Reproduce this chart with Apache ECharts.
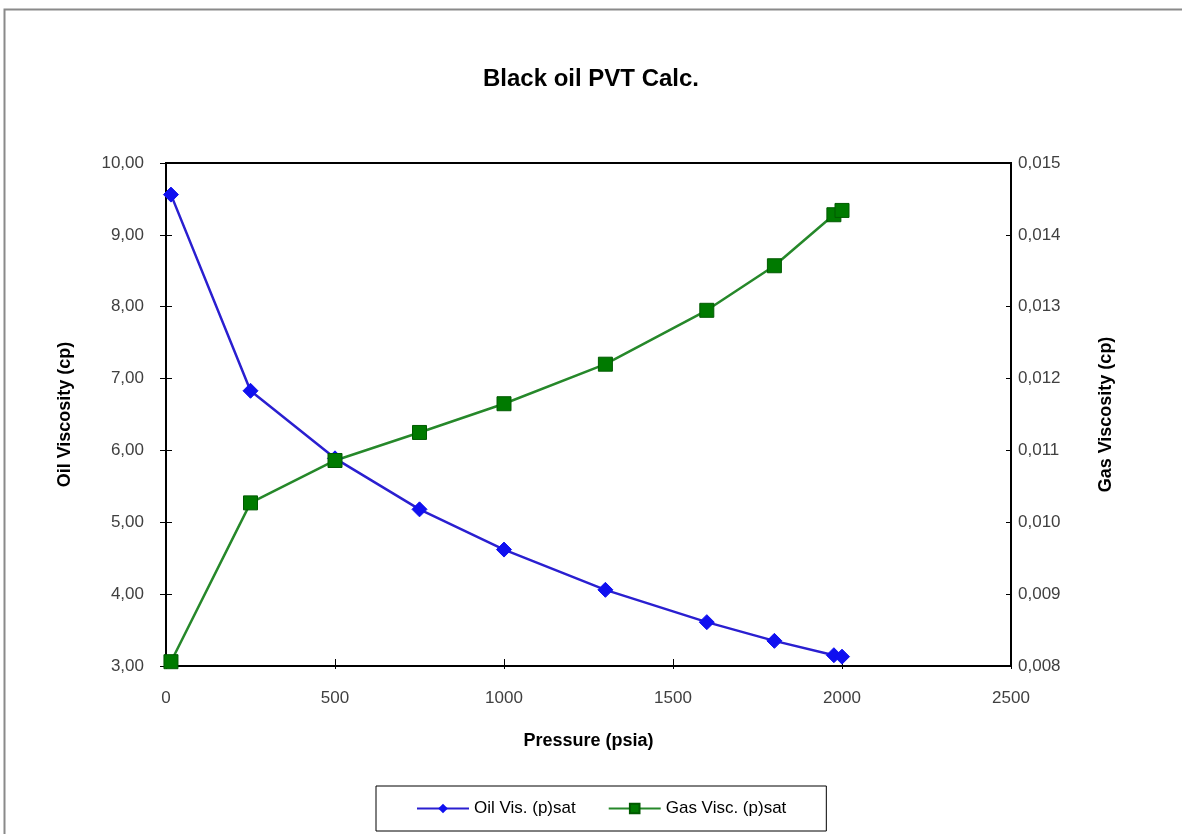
<!DOCTYPE html>
<html>
<head>
<meta charset="utf-8">
<script src="https://cdn.jsdelivr.net/npm/echarts@6/dist/echarts.min.js"></script>
<style>
html,body{margin:0;padding:0;background:#fff;}
#chart{width:1182px;height:834px;}
</style>
</head>
<body>
<div id="chart"></div>
<script>
var pressure = [14.7, 250, 500, 750, 1000, 1300, 1600, 1800, 1976, 2000];
var oilVisc = [9.56, 6.83, 5.89, 5.18, 4.62, 4.06, 3.61, 3.35, 3.15, 3.13];
var gasVisc = [0.00806, 0.01027, 0.01086, 0.01125, 0.01165, 0.0122, 0.01295, 0.01357, 0.01428, 0.01434];
var seriesNames = ['Oil Vis. (p)sat', 'Gas Visc. (p)sat'];
var titleText = 'Black oil PVT Calc.';
var xName = 'Pressure (psia)';
var yLeftName = 'Oil Viscosity (cp)';
var yRightName = 'Gas Viscosity (cp)';

function pairs(xs, ys){ return xs.map(function(x,i){ return [x, ys[i]]; }); }
var FONT = '"Liberation Sans", Arial, sans-serif';
var labelStyle = {color:'#404040', fontSize:17, fontFamily:FONT};
var nameStyle = {fontFamily:FONT, fontWeight:'bold', fontSize:18, color:'#000'};
var chart = echarts.init(document.getElementById('chart'));
chart.setOption({
  backgroundColor:'#fff',
  animation:false,
  title:{text:titleText, left:'center', top:62, textStyle:{fontFamily:FONT, fontWeight:'bold', fontSize:24, color:'#000'}},
  graphic:[{type:'rect', silent:true, shape:{x:4.5, y:9.5, width:1200, height:900}, style:{fill:'none', stroke:'#8a8a8a', lineWidth:2}}],
  grid:{left:166, right:171, top:163, bottom:168, show:true, borderColor:'#000', borderWidth:2, backgroundColor:'transparent'},
  legend:{
    data:seriesNames, left:376, top:786, orient:'horizontal',
    borderColor:'#000', borderWidth:1, padding:[14,40,14,40],
    itemWidth:52, itemHeight:12, itemGap:32,
    textStyle:{fontFamily:FONT, fontSize:17, color:'#000'}
  },
  xAxis:[
    {type:'value', min:0, max:2500, interval:500, position:'bottom',
     name:xName, nameLocation:'middle', nameGap:66, nameTextStyle:nameStyle,
     axisLine:{onZero:false, lineStyle:{color:'#000', width:2}},
     axisTick:{inside:true, length:7, lineStyle:{color:'#000', width:1}},
     axisLabel:Object.assign({margin:24, formatter:function(v){return String(v);}}, labelStyle),
     splitLine:{show:false}},
    {type:'value', min:0, max:2500, interval:500, position:'bottom',
     axisLine:{show:false}, axisTick:{inside:false, length:3, lineStyle:{color:'#000'}},
     axisLabel:{show:false}, splitLine:{show:false}}
  ],
  yAxis:[
    {type:'value', min:3, max:10, interval:1, position:'left',
     name:yLeftName, nameLocation:'middle', nameGap:92, nameRotate:90, nameTextStyle:nameStyle,
     axisLine:{lineStyle:{color:'#000', width:2}},
     axisTick:{inside:false, length:6, lineStyle:{color:'#000', width:1}},
     axisLabel:Object.assign({margin:22, formatter:function(v){return v.toFixed(2).replace('.', ',');}}, labelStyle),
     splitLine:{show:false}},
    {type:'value', min:0.008, max:0.015, interval:0.001, position:'right',
     name:yRightName, nameLocation:'middle', nameGap:86, nameRotate:90, nameTextStyle:nameStyle,
     axisLine:{lineStyle:{color:'#000', width:2}},
     axisTick:{inside:false, length:6, lineStyle:{color:'#000', width:1}},
     axisLabel:Object.assign({margin:7, formatter:function(v){return v.toFixed(3).replace('.', ',');}}, labelStyle),
     splitLine:{show:false}},
    {type:'value', min:3, max:10, interval:1, position:'left',
     axisLine:{show:false}, axisTick:{inside:true, length:5, lineStyle:{color:'#000'}},
     axisLabel:{show:false}, splitLine:{show:false}},
    {type:'value', min:0.008, max:0.015, interval:0.001, position:'right',
     axisLine:{show:false}, axisTick:{inside:true, length:5, lineStyle:{color:'#000'}},
     axisLabel:{show:false}, splitLine:{show:false}}
  ],
  series:[
    {name:seriesNames[0], type:'line', xAxisIndex:0, yAxisIndex:0, data:pairs(pressure, oilVisc),
     symbol:'diamond', symbolSize:15, showAllSymbol:true,
     lineStyle:{color:'#2a1fd0', width:2.5}, itemStyle:{color:'#1010f0', borderColor:'#1010f0'}},
    {name:seriesNames[1], type:'line', xAxisIndex:0, yAxisIndex:1, data:pairs(pressure, gasVisc),
     symbol:'rect', symbolSize:14, showAllSymbol:true,
     lineStyle:{color:'#26882a', width:2.5}, itemStyle:{color:'#007a00', borderColor:'#005a00', borderWidth:1}}
  ]
});
</script>
</body>
</html>
